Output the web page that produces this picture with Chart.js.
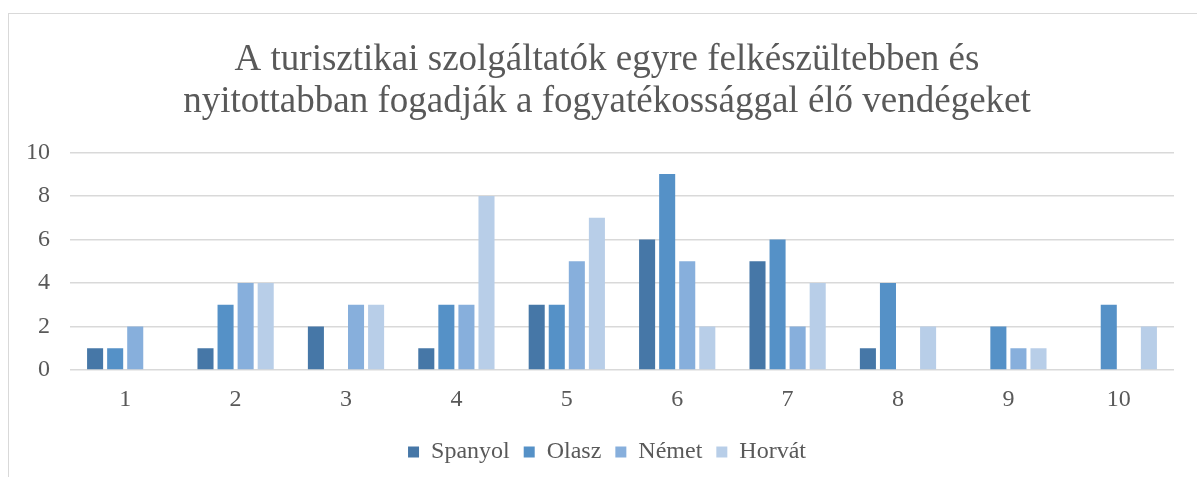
<!DOCTYPE html>
<html>
<head>
<meta charset="utf-8">
<script src="https://cdn.jsdelivr.net/npm/chart.js@4"></script>
<style>
  html, body { margin: 0; padding: 0; background: #fff; }
  #frame { position: absolute; left: 8px; top: 13px; width: 1200px; height: 480px;
           border: 1.5px solid #d9d9d9; box-sizing: border-box; }
  #wrap { position: absolute; left: 0; top: 0; width: 1197px; height: 477px; }
</style>
</head>
<body>
<div id="frame"></div>
<div id="wrap"><canvas id="chart-tourism"></canvas></div>
<script>
const categories = ['1', '2', '3', '4', '5', '6', '7', '8', '9', '10'];
const spanyol = [1, 1, 2, 1, 3, 6, 5, 1, 0, 0];
const olasz   = [1, 3, 0, 3, 3, 9, 6, 4, 2, 3];
const nemet   = [2, 4, 3, 3, 5, 5, 2, 0, 1, 0];
const horvat  = [0, 4, 3, 8, 7, 2, 4, 2, 1, 2];

const serif = '"Liberation Serif", "Times New Roman", serif';
const grey = '#595959';

Chart.defaults.font.family = serif;
Chart.defaults.color = grey;

function series(label, data, color) {
    return {
        label: label,
        data: data,
        backgroundColor: color,
        borderWidth: 0,
        barPercentage: 0.8,
        categoryPercentage: 0.727
    };
}

// centre title and legend on the outer frame rather than the padded box
const centreOnFrame = {
    id: 'centreOnFrame',
    afterLayout(chart) {
        const shift = 16;
        [chart.titleBlock, chart.legend].forEach((box) => {
            if (box) { box.left += shift; box.right += shift; }
        });
    }
};

let chartTourism = new Chart(document.getElementById('chart-tourism'), {
    type: 'bar',
    data: {
        labels: categories,
        datasets: [
            series('Spanyol', spanyol, '#4677a7'),
            series('Olasz', olasz, '#5591c7'),
            series('Német', nemet, '#87afdc'),
            series('Horvát', horvat, '#b8cee8')
        ]
    },
    plugins: [centreOnFrame],
    options: {
        responsive: true,
        maintainAspectRatio: false,
        animation: false,
        layout: { padding: { left: 8, right: 23, top: 0, bottom: 3 } },
        plugins: {
            title: {
                display: true,
                text: ['A turisztikai szolgáltatók egyre felkészültebben és',
                       'nyitottabban fogadják a fogyatékossággal élő vendégeket'],
                font: { size: 37, weight: 'normal', lineHeight: 1.14 },
                color: grey,
                padding: { top: 39, bottom: 29 }
            },
            legend: {
                position: 'bottom',
                labels: {
                    boxWidth: 11,
                    boxHeight: 11,
                    padding: 14,
                    font: { size: 24 },
                    color: grey
                }
            },
            tooltip: { enabled: false }
        },
        scales: {
            x: {
                grid: { display: false },
                border: { display: false },
                ticks: { font: { size: 24 }, padding: 7 },
                afterFit: (scale) => { scale.height = 56; }
            },
            y: {
                min: 0,
                max: 10,
                ticks: { stepSize: 2, font: { size: 24 }, padding: 20 },
                grid: { color: '#d9d9d9', lineWidth: 1.5, drawTicks: false },
                border: { display: false },
                afterFit: (scale) => { scale.width = 62; }
            }
        }
    }
});
</script>
</body>
</html>
